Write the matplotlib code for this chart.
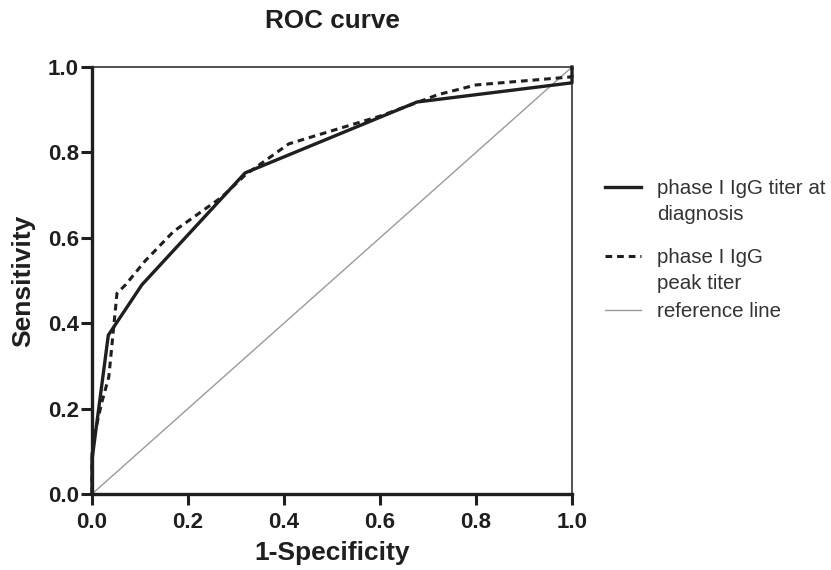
import matplotlib
matplotlib.use("Agg")
import matplotlib.pyplot as plt
from matplotlib.lines import Line2D

plt.rcParams['font.family'] = ['Liberation Sans', 'DejaVu Sans']

# Data
fpr_diag = [0.0, 0.0, 0.034, 0.104, 0.319, 0.677, 1.0, 1.0]
sens_diag = [0.0, 0.08, 0.372, 0.49, 0.752, 0.918, 0.963, 1.0]

fpr_peak = [0.0, 0.0, 0.006, 0.02, 0.035, 0.042, 0.052, 0.07, 0.11, 0.17, 0.27, 0.32,
            0.41, 0.6, 0.68, 0.72, 0.8, 1.0, 1.0]
sens_peak = [0.0, 0.1, 0.143, 0.213, 0.274, 0.354, 0.47, 0.49, 0.545, 0.615, 0.695, 0.748,
             0.82, 0.885, 0.918, 0.935, 0.958, 0.977, 1.0]

ref_x = [0.0, 1.0]
ref_y = [0.0, 1.0]

ticks = [0.0, 0.2, 0.4, 0.6, 0.8, 1.0]
tick_labels = ["0.0", "0.2", "0.4", "0.6", "0.8", "1.0"]

labels = ["phase I IgG titer at\ndiagnosis", "phase I IgG\npeak titer", "reference line"]

W, H = 831, 570
fig = plt.figure(figsize=(W / 100, H / 100), dpi=100)
ax = fig.add_axes([92 / W, 1 - 494 / H, (572 - 92) / W, (494 - 67) / H])

ink = '#1f1f1f'
ax.plot(ref_x, ref_y, color='#9a9a9a', lw=1.0, zorder=1)
ax.plot(fpr_peak, sens_peak, color=ink, lw=2.2, dashes=(2.2, 1.6), zorder=2, clip_on=False)
ax.plot(fpr_diag, sens_diag, color=ink, lw=2.4, zorder=3, clip_on=False)

ax.set_xlim(0, 1)
ax.set_ylim(0, 1)
ax.set_xticks(ticks)
ax.set_xticklabels(tick_labels)
ax.set_yticks(ticks)
ax.set_yticklabels(tick_labels)

for s in ['left', 'bottom']:
    ax.spines[s].set_linewidth(2.4)
    ax.spines[s].set_color(ink)
for s in ['top', 'right']:
    ax.spines[s].set_linewidth(1.2)
    ax.spines[s].set_color('#333333')

ax.tick_params(direction='out', length=8, width=2.2, color=ink,
               labelsize=16, labelcolor=ink)
ax.tick_params(axis='x', pad=5)
ax.tick_params(axis='y', pad=1.5)
for lab in ax.get_xticklabels() + ax.get_yticklabels():
    lab.set_fontweight('bold')

ax.set_xlabel("1-Specificity", fontsize=19, fontweight='bold', color=ink, labelpad=6)
ax.set_ylabel("Sensitivity", fontsize=19, fontweight='bold', color=ink, labelpad=9)
ax.set_title("ROC curve", fontsize=18.8, fontweight='bold', color=ink, pad=28)

# Legend (manual, first line aligned with handle)
def fx(px):
    return px / W

def fy(py):
    return 1 - py / H

handles = [
    dict(color=ink, lw=2.4, ls='-'),
    dict(color=ink, lw=2.2, dashes=(2.2, 1.6)),
    dict(color='#9a9a9a', lw=1.0, ls='-'),
]
ys = [187, 256, 310]
for h, y, lab in zip(handles, ys, labels):
    line = Line2D([fx(605), fx(641)], [fy(y), fy(y)], transform=fig.transFigure, **h)
    fig.add_artist(line)
    fig.text(fx(657), fy(y - 8), lab, ha='left', va='top', fontsize=14.8, color='#333333',
             linespacing=1.45, transform=fig.transFigure)

fig.savefig("out.png", dpi=100)
